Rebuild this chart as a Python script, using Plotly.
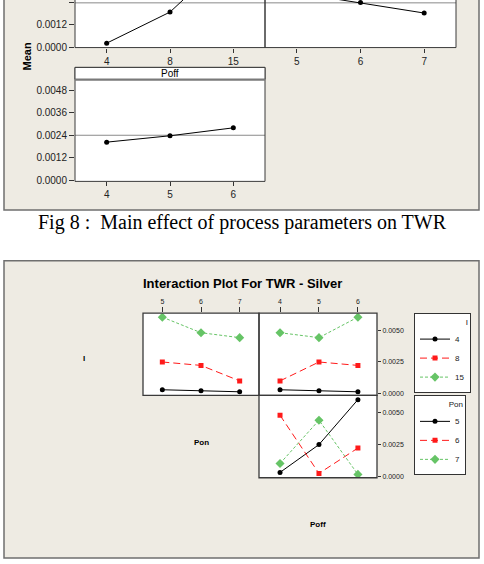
import numpy as np
import pandas as pd
import plotly.graph_objects as go

# ---------------- data ----------------
I_levels = [4, 8, 15]
Pon_levels = [5, 6, 7]
Poff_levels = [4, 5, 6]
run_I = [4, 4, 4, 8, 8, 8, 15, 15, 15]
run_Pon = [5, 6, 7, 5, 6, 7, 5, 6, 7]
run_Poff = [4, 5, 6, 5, 6, 4, 6, 4, 5]
run_TWR = [0.00029, 0.00021, 0.00013, 0.00248, 0.00221, 0.00099, 0.00602, 0.00479, 0.00440]

df = pd.DataFrame({"I": run_I, "Pon": run_Pon, "Poff": run_Poff, "TWR": run_TWR})
grand_mean = df["TWR"].mean()

W, H = 484, 564
def px(x):
    return x / W
def py(y):
    return 1 - y / H

BEIGE = "#EEEBE3"
FRAME = "#6f6f6f"
BORDER = "#3a3a3a"
FONT = "Liberation Sans, Arial, sans-serif"

fig = go.Figure()

# ---------------- main effects plot ----------------
main_panels = [("I", I_levels, "x", "y"), ("Pon", Pon_levels, "x2", "y2"), ("Poff", Poff_levels, "x3", "y3")]
for name, levels, xa, ya in main_panels:
    m = df.groupby(name)["TWR"].mean().reindex(levels)
    fig.add_trace(go.Scatter(
        x=[levels.index(v) for v in m.index], y=m.values, mode="lines+markers",
        line=dict(color="black", width=1), marker=dict(color="black", size=5),
        xaxis=xa, yaxis=ya, showlegend=False, cliponaxis=True))

# ---------------- interaction plot ----------------
styles = [
    dict(color="black", dash="solid", symbol="circle", size=5),
    dict(color="#ff1a1a", dash="7px,4px", symbol="square", size=5),
    dict(color="#66c466", dash="3px,2px", symbol="diamond", size=7),
]
cells = [("I", "Pon", Pon_levels, "x4", "y4", True, "legend"),
         ("I", "Poff", Poff_levels, "x5", "y5", False, "legend"),
         ("Pon", "Poff", Poff_levels, "x6", "y6", True, "legend2")]
for trace_var, x_var, xlevels, xa, ya, show, leg in cells:
    tlevels = I_levels if trace_var == "I" else Pon_levels
    for k, lv in enumerate(tlevels):
        sub = df[df[trace_var] == lv].groupby(x_var)["TWR"].mean().reindex(xlevels)
        st = styles[k]
        fig.add_trace(go.Scatter(
            x=[xlevels.index(v) for v in sub.index], y=sub.values, mode="lines+markers",
            name=str(lv), legendgroup=f"{trace_var}{lv}", legend=leg, showlegend=show,
            line=dict(color=st["color"], width=1, dash=st["dash"]),
            marker=dict(color=st["color"], symbol=st["symbol"], size=st["size"]),
            xaxis=xa, yaxis=ya))

# ---------------- axes ----------------
def xcat(domain, levels, anchor, showlabels=True, side="bottom", size=10, ticklen=4, rng=(-0.5, 2.5)):
    return dict(domain=domain, anchor=anchor, range=list(rng), tickvals=[0, 1, 2],
                ticktext=[str(v) for v in levels], showticklabels=showlabels,
                ticks="outside" if showlabels else "", ticklen=ticklen, tickcolor="#333",
                side=side, showgrid=False, zeroline=False, showline=False,
                tickfont=dict(size=size, color="#222", family=FONT), fixedrange=True)

def yax(domain, anchor, rng, tickvals=None, side="left", size=10, ticklen=5):
    d = dict(domain=domain, anchor=anchor, range=list(rng), showgrid=False, zeroline=False,
             showline=False, side=side, fixedrange=True)
    if tickvals is None:
        d.update(showticklabels=False, ticks="")
    else:
        d.update(tickvals=tickvals, ticktext=[f"{v:.4f}" for v in tickvals], ticks="outside",
                 ticklen=ticklen, tickcolor="#333", tickfont=dict(size=size, color="#222", family=FONT))
    return d

top_rng = (-0.000027, 0.002545)
poff_rng = (-0.0000687, 0.005376)
fig.update_layout(
    xaxis=xcat([px(75), px(265)], I_levels, "y"),
    yaxis=yax([py(48), 1], "x", top_rng, [0, 0.0012, 0.0024]),
    xaxis2=xcat([px(265), px(456)], Pon_levels, "y2"),
    yaxis2=yax([py(48), 1], "x2", top_rng),
    xaxis3=xcat([px(75), px(265)], Poff_levels, "y3"),
    yaxis3=yax([py(183), py(80)], "x3", poff_rng, [0, 0.0012, 0.0024, 0.0036, 0.0048]),
    xaxis4=xcat([px(143), px(259)], Pon_levels, "y4", side="top", size=7, ticklen=5),
    yaxis4=yax([py(399), py(316)], "x4", (-0.00016, 0.00633)),
    xaxis5=xcat([px(259), px(377)], Poff_levels, "y5", side="top", size=7, ticklen=5, rng=(-0.54, 2.49)),
    yaxis5=yax([py(399), py(316)], "x5", (-0.00016, 0.00633), [0, 0.0025, 0.005], side="right", size=7, ticklen=3),
    xaxis6=xcat([px(259), px(377)], Poff_levels, "y6", showlabels=False, rng=(-0.54, 2.49)),
    yaxis6=yax([py(482), py(399)], "x6", (-0.00013, 0.00635), [0, 0.0025, 0.005], side="right", size=7, ticklen=3),
)

# ---------------- shapes ----------------
shapes = []
def rect(x0, y0, x1, y1, fill=None, line=None, lw=1, layer="below"):
    shapes.append(dict(type="rect", xref="paper", yref="paper", x0=px(x0), x1=px(x1), y0=py(y1), y1=py(y0),
                       fillcolor=fill if fill else "rgba(0,0,0,0)",
                       line=dict(color=line if line else "rgba(0,0,0,0)", width=lw if line else 0),
                       layer=layer))

# frames
rect(4, -10, 479, 212, BEIGE, FRAME, 1.5)
rect(4, 263, 479, 563, BEIGE, FRAME, 1.5)
# white panels
rect(75, -10, 456, 48, "white")
rect(75, 68, 265, 183, "white")
rect(143, 316, 377, 399, "white")
rect(259, 399, 377, 482, "white")
# grand mean lines
for xa, ya in [("x", "y"), ("x2", "y2"), ("x3", "y3")]:
    shapes.append(dict(type="line", xref=f"{xa} domain", yref=ya, x0=0, x1=1, y0=grand_mean, y1=grand_mean,
                       line=dict(color="#8a8a8a", width=1), layer="below"))
# borders
rect(75, -10, 265, 48, None, BORDER, 1, "above")
rect(265, -10, 456, 48, None, BORDER, 1, "above")
rect(75, 68, 265, 183, None, BORDER, 1, "above")
rect(75, 68, 265, 80, "white", BORDER, 1, "above")
shapes.append(dict(type="line", xref="paper", yref="paper", x0=px(75), x1=px(265), y0=py(80.5), y1=py(80.5),
                   line=dict(color="#7a7a7a", width=2), layer="above"))
rect(143, 316, 259, 399, None, BORDER, 1.3, "above")
rect(259, 316, 377, 399, None, BORDER, 1.3, "above")
rect(259, 399, 377, 482, None, BORDER, 1.3, "above")

# ---------------- annotations ----------------
ann = []
def text(x, y, t, size, bold=False, family=FONT, angle=0, color="black"):
    ann.append(dict(xref="paper", yref="paper", x=px(x), y=py(y), text=f"<b>{t}</b>" if bold else t,
                    showarrow=False, xanchor="center", yanchor="middle", textangle=angle,
                    font=dict(size=size, family=family, color=color)))

text(27, 57, "Mean", 11, bold=True, angle=-90)
text(170, 74, "Poff", 10)
text(242, 224, "Fig 8 :  Main effect of process parameters on TWR", 20,
     family="Liberation Serif, Times New Roman, serif")
text(242, 286, "Interaction Plot For TWR - Silver", 13, bold=True)
text(84, 362, "I", 8, bold=True)
text(201, 446, "Pon", 8, bold=True)
text(318, 529, "Poff", 8, bold=True)

fig.update_layout(
    width=W, height=H, margin=dict(l=0, r=0, t=0, b=0),
    paper_bgcolor="white", plot_bgcolor="rgba(0,0,0,0)",
    shapes=shapes, annotations=ann,
    legend=dict(x=px(414), y=py(316), xanchor="left", yanchor="top", bgcolor="white",
                bordercolor="#333", borderwidth=1, font=dict(size=8, family=FONT, color="#222"),
                title=dict(text="I", side="top right", font=dict(size=8, family=FONT, color="#222")),
                itemwidth=30, tracegroupgap=0),
    legend2=dict(x=px(414), y=py(399), xanchor="left", yanchor="top", bgcolor="white",
                 bordercolor="#333", borderwidth=1, font=dict(size=8, family=FONT, color="#222"),
                 title=dict(text="Pon", side="top right", font=dict(size=8, family=FONT, color="#222")),
                 itemwidth=30, tracegroupgap=0),
    showlegend=True,
)

fig.write_html("out.html")
